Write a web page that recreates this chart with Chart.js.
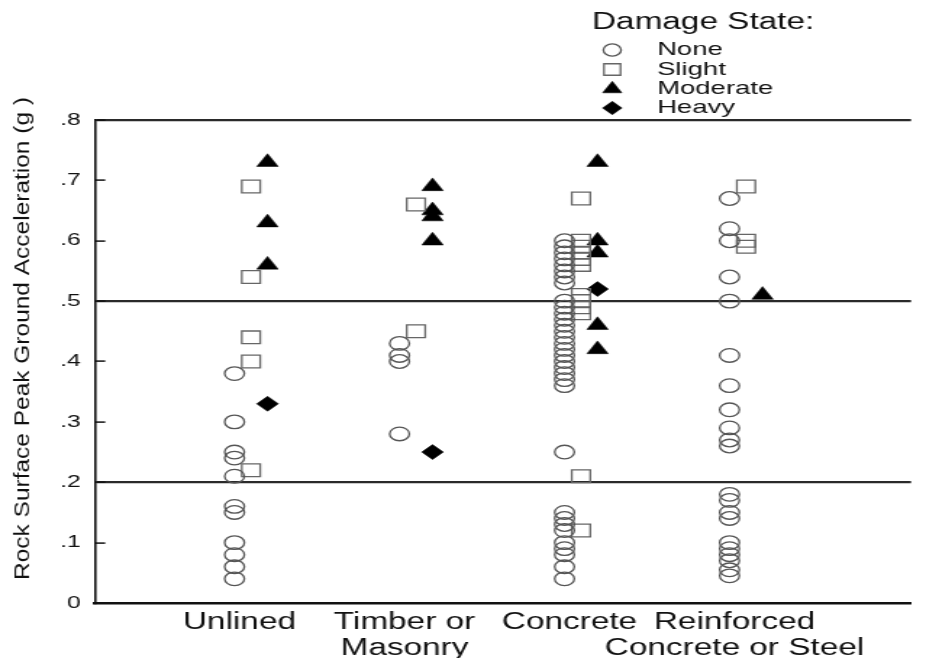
<!DOCTYPE html>
<html>
<head>
<meta charset="utf-8">
<script src="https://cdn.jsdelivr.net/npm/chart.js@4/dist/chart.umd.min.js"></script>
<style>
  html, body { margin: 0; padding: 0; background: #fff; overflow: hidden; }
  /* the figure is drawn narrow and widened horizontally */
  #wrap { position: absolute; left: 0; top: 0; width: 639px; height: 658px;
          transform: scaleX(1.4491); transform-origin: 0 0; }
</style>
</head>
<body>
<div id="wrap"><canvas id="c"></canvas></div>
<script>
// Lining categories (x axis)
const categories = [
  ['Unlined'],
  ['Timber or', 'Masonry'],
  ['Concrete'],
  ['Reinforced', 'Concrete or Steel']
];

// Rock surface PGA (g) per damage state, one list per lining category
const noneValues = [
  [0.38, 0.30, 0.25, 0.24, 0.21, 0.16, 0.15, 0.10, 0.08, 0.06, 0.04],
  [0.43, 0.41, 0.40, 0.28],
  [0.60, 0.59, 0.58, 0.57, 0.56, 0.55, 0.54, 0.53,
   0.50, 0.49, 0.48, 0.47, 0.46, 0.45, 0.44, 0.43, 0.42, 0.41, 0.40, 0.39, 0.38, 0.37, 0.36,
   0.25, 0.15, 0.14, 0.13, 0.12, 0.10, 0.09, 0.08, 0.06, 0.04],
  [0.67, 0.62, 0.60, 0.54, 0.50, 0.41, 0.36, 0.32, 0.29, 0.27, 0.26,
   0.18, 0.17, 0.15, 0.14, 0.10, 0.09, 0.08, 0.07, 0.055, 0.045]
];
const slightValues = [
  [0.69, 0.54, 0.44, 0.40, 0.22],
  [0.66, 0.45],
  [0.67, 0.60, 0.59, 0.58, 0.57, 0.56, 0.51, 0.50, 0.49, 0.48, 0.21, 0.12],
  [0.69, 0.60, 0.59]
];
const moderateValues = [
  [0.73, 0.63, 0.56],
  [0.69, 0.65, 0.64, 0.60],
  [0.73, 0.60, 0.58, 0.46, 0.42],
  [0.51]
];
const heavyValues = [
  [0.33],
  [0.25],
  [0.52],
  []
];

const damageLabels = ['None', 'Slight', 'Moderate', 'Heavy'];
const yTickLabels = ['0', '.1', '.2', '.3', '.4', '.5', '.6', '.7', '.8'];
const legendTitle = 'Damage State:';
const yTitle = 'Rock Surface Peak Ground Acceleration (g )';

const FONT = "'Liberation Sans', Arial, Helvetica, sans-serif";

// each damage state sits in its own narrow lane inside a category
const laneShift = { None: 0, Slight: 0.1, Moderate: 0.2, Heavy: 0.2 };
const labelShift = 0.03;

function toPoints(values, state) {
  const pts = [];
  values.forEach((list, i) => list.forEach(v => pts.push({ x: i + 1 + laneShift[state], y: v })));
  return pts;
}

const styles = {
  None:     { pointStyle: 'circle',   radius: 6.8, borderColor: '#555', backgroundColor: 'rgba(255,255,255,0)', borderWidth: 1.3 },
  Slight:   { pointStyle: 'rect',     radius: 9,   borderColor: '#666', backgroundColor: 'rgba(255,255,255,0)', borderWidth: 1.3 },
  Moderate: { pointStyle: 'triangle', radius: 8.5, borderColor: '#000', backgroundColor: '#000', borderWidth: 0.5 },
  Heavy:    { pointStyle: 'rectRot',  radius: 7.5, borderColor: '#000', backgroundColor: '#000', borderWidth: 0.5 }
};

const seriesValues = [noneValues, slightValues, moderateValues, heavyValues];
const datasets = damageLabels.map((name, k) => {
  const s = styles[name];
  return {
    label: name,
    data: toPoints(seriesValues[k], name),
    pointStyle: s.pointStyle,
    pointRadius: s.radius,
    pointHoverRadius: s.radius,
    pointBorderColor: s.borderColor,
    pointBackgroundColor: s.backgroundColor,
    pointBorderWidth: s.borderWidth,
    showLine: false
  };
});

// stacked legend block with a heading, top right
const damageLegend = {
  id: 'damageLegend',
  afterDraw(chart) {
    const ctx = chart.ctx;
    ctx.save();
    ctx.fillStyle = '#111';
    ctx.textBaseline = 'middle';
    ctx.textAlign = 'left';
    ctx.font = '23px ' + FONT;
    ctx.fillText(legendTitle, 408.5, 23);
    ctx.font = '19px ' + FONT;
    const rows = [50, 69.5, 89, 108];
    damageLabels.forEach((name, k) => {
      const s = styles[name];
      ctx.strokeStyle = s.borderColor;
      ctx.fillStyle = s.backgroundColor;
      ctx.lineWidth = s.borderWidth;
      Chart.helpers.drawPoint(ctx, { pointStyle: s.pointStyle, radius: s.radius * 0.9, borderWidth: s.borderWidth, rotation: 0 }, 422.5, rows[k]);
      ctx.fillStyle = '#111';
      ctx.fillText(name, 453.4, rows[k]);
    });
    ctx.restore();
  }
};

// vertical axis title, drawn along the left edge
const yAxisTitle = {
  id: 'yAxisTitle',
  afterDraw(chart) {
    const ctx = chart.ctx;
    ctx.save();
    ctx.font = '15px ' + FONT;
    const w = ctx.measureText(yTitle).width;
    ctx.translate(15.5, 338.5);
    ctx.rotate(-Math.PI / 2);
    ctx.scale(483 / w, 1);
    ctx.fillStyle = '#111';
    ctx.textAlign = 'center';
    ctx.textBaseline = 'middle';
    ctx.fillText(yTitle, 0, 0);
    ctx.restore();
  }
};

const fullLines = [0.2, 0.5, 0.8];

new Chart(document.getElementById('c'), {
  type: 'scatter',
  data: { datasets },
  options: {
    responsive: true,
    maintainAspectRatio: false,
    animation: false,
    events: [],
    layout: { padding: { top: 120, left: 0, right: 0, bottom: 0 } },
    plugins: { legend: { display: false }, tooltip: { enabled: false } },
    scales: {
      x: {
        type: 'linear',
        min: 0.155,
        max: 5.1,
        afterBuildTicks: axis => { axis.ticks = categories.map((c, i) => ({ value: i + 1 + labelShift })); },
        afterFit: scale => { scale.height = 55; },
        ticks: {
          autoSkip: false,
          maxRotation: 0,
          padding: 6,
          color: '#111',
          font: { family: FONT, size: 23, lineHeight: 1.15 },
          callback: (v, i) => categories[i]
        },
        grid: { display: false, drawTicks: false },
        border: { display: true, color: '#111', width: 2.5 }
      },
      y: {
        min: 0,
        max: 0.8,
        afterFit: scale => { scale.width = 65.6; },
        ticks: {
          stepSize: 0.1,
          padding: 17,
          color: '#111',
          font: { family: FONT, size: 17 },
          callback: (v, i) => yTickLabels[i]
        },
        grid: {
          drawTicks: true,
          tickLength: -7,
          tickWidth: 1.5,
          tickColor: '#111',
          lineWidth: 2.2,
          color: c => fullLines.some(t => Math.abs(t - c.tick.value) < 1e-6) ? '#2a2a2a' : 'rgba(0,0,0,0)'
        },
        border: { display: true, color: '#111', width: 1.6 }
      }
    }
  },
  plugins: [damageLegend, yAxisTitle]
});
</script>
</body>
</html>
